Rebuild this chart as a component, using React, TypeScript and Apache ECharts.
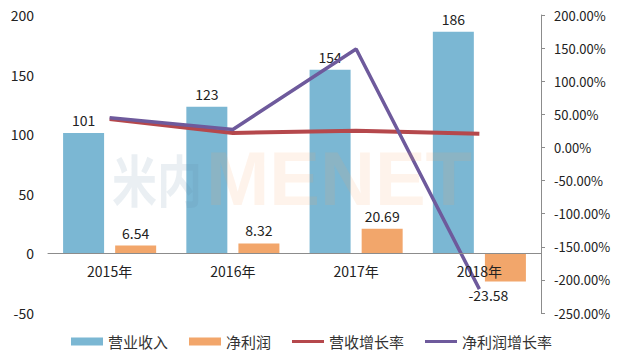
import React, { useEffect, useRef } from "react";
import * as echarts from "echarts";

const categories = ["2015年", "2016年", "2017年", "2018年"];
const revenue = [101, 123, 154, 186];
const netProfit = [6.54, 8.32, 20.69, -23.58];
const revenueGrowth = [43, 21.8, 25.2, 20.8];
const profitGrowth = [45, 27.2, 148.7, -214];
const seriesNames = ["营业收入", "净利润", "营收增长率", "净利润增长率"];

const FONT = "'Noto Sans CJK SC', 'Open Sans', sans-serif";
const LINE_ICON = "path://M0,0 L32,0 L32,3.2 L0,3.2 Z";

export default function App() {
  const ref = useRef<HTMLDivElement>(null);
  useEffect(() => {
    if (!ref.current) return;
    const chart = echarts.init(ref.current, null, { renderer: "svg" });
    const labelStyle = { show: true, color: "#222", fontSize: 14, fontFamily: FONT, distance: 6 };
    chart.setOption({
      animation: false,
      backgroundColor: "#fff",
      textStyle: { fontFamily: FONT },
      grid: { left: 48, right: 82, top: 15, bottom: 46, containLabel: false },
      legend: {
        bottom: 5,
        left: "center",
        itemWidth: 32,
        itemHeight: 8,
        itemGap: 21,
        textStyle: { fontSize: 15, color: "#333", fontFamily: FONT },
        data: [
          { name: seriesNames[0], icon: "rect" },
          { name: seriesNames[1], icon: "rect" },
          { name: seriesNames[2], icon: LINE_ICON },
          { name: seriesNames[3], icon: LINE_ICON },
        ],
      },
      xAxis: {
        type: "category",
        data: categories,
        offset: -60,
        z: 10,
        axisLine: { show: true, onZero: false, lineStyle: { color: "#8c8c8c", width: 1 } },
        axisTick: { show: false },
        axisLabel: { color: "#222", fontSize: 14, margin: 11, fontFamily: FONT },
      },
      yAxis: [
        {
          type: "value",
          min: -50,
          max: 200,
          interval: 50,
          axisLine: { show: false },
          axisTick: { show: false },
          splitLine: { show: false },
          axisLabel: { color: "#222", fontSize: 14, margin: 14, fontFamily: FONT },
        },
        {
          type: "value",
          min: -250,
          max: 200,
          interval: 50,
          position: "right",
          axisLine: { show: true, lineStyle: { color: "#8c8c8c", width: 1 } },
          axisTick: { show: true, length: 4, lineStyle: { color: "#8c8c8c" } },
          splitLine: { show: false },
          axisLabel: {
            color: "#222",
            fontSize: 13,
            margin: 13,
            fontFamily: FONT,
            formatter: (v: number) => v.toFixed(2) + "%",
          },
        },
      ],
      graphic: [
        {
          type: "text",
          x: 112,
          y: 178,
          scaleY: 1.25,
          z: 100,
          zlevel: 1,
          silent: true,
          style: {
            text: "米内",
            fontSize: 45,
            lineHeight: 45,
            fontWeight: "bold",
            fontFamily: FONT,
            verticalAlign: "middle",
            fill: "rgba(90,130,165,0.13)",
          },
        },
        {
          type: "text",
          x: 206,
          y: 178,
          z: 100,
          zlevel: 1,
          silent: true,
          style: {
            text: "MENET",
            fontSize: 76,
            lineHeight: 56,
            fontWeight: "bold",
            fontFamily: "'Liberation Sans', Arial, sans-serif",
            verticalAlign: "middle",
            fill: "rgba(245,165,100,0.13)",
          },
        },
      ],
      series: [
        {
          name: seriesNames[0],
          type: "bar",
          data: revenue,
          barWidth: 41,
          barGap: "27%",
          itemStyle: { color: "#7bb7d3" },
          label: { ...labelStyle, position: "top" },
        },
        {
          name: seriesNames[1],
          type: "bar",
          data: netProfit.map((v) => ({
            value: v,
            label: v < 0 ? { position: "bottom", offset: [-17, 0] } : { position: "top" },
          })),
          barWidth: 41,
          itemStyle: { color: "#f2a66b" },
          label: { ...labelStyle, position: "top" },
        },
        {
          name: seriesNames[2],
          type: "line",
          yAxisIndex: 1,
          data: revenueGrowth,
          showSymbol: false,
          symbol: "none",
          lineStyle: { color: "#b5484c", width: 4 },
          itemStyle: { color: "#b5484c" },
          z: 3,
        },
        {
          name: seriesNames[3],
          type: "line",
          yAxisIndex: 1,
          data: profitGrowth,
          showSymbol: false,
          symbol: "none",
          lineStyle: { color: "#6e5a9c", width: 3.5 },
          itemStyle: { color: "#6e5a9c" },
          z: 4,
        },
      ],
    });
    return () => chart.dispose();
  }, []);
  return <div ref={ref} style={{ width: 623, height: 359, position: "absolute", left: 0, top: 0 }} />;
}
